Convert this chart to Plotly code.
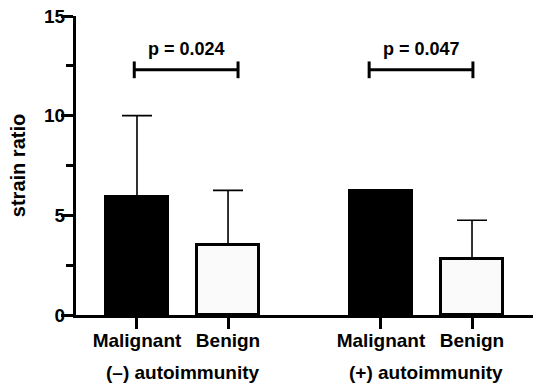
import plotly.graph_objects as go

# ---- data ----
groups = ["(\u2013) autoimmunity", "(+) autoimmunity"]
categories = ["Malignant", "Benign"]
means = [[5.9, 3.5], [6.2, 2.8]]
sd_upper = [[4.1, 2.75], [0.0, 1.95]]
p_values = ["p = 0.024", "p = 0.047"]
bracket_level = [12.3, 12.3]
y_ticks = [0, 5, 10, 15]

# ---- layout helpers ----
group_gap = 2.68
bracket_pad = [(-0.03, 0.11), (-0.13, 0.01)]
bar_fill = ["#000000", "#fafafa"]
FONT = "Liberation Sans, Arial, sans-serif"
BIG = 19

xs, ys, errs, fills, labels = [], [], [], [], []
for gi, g in enumerate(groups):
    for ci, c in enumerate(categories):
        xs.append(gi * group_gap + ci)
        ys.append(means[gi][ci])
        errs.append(sd_upper[gi][ci])
        fills.append(bar_fill[ci])
        labels.append(c)

fig = go.Figure()
fig.add_trace(go.Bar(
    x=xs, y=ys, width=0.675,
    marker=dict(color=fills, line=dict(color="black", width=3)),
    error_y=dict(type="data", array=errs, arrayminus=[0] * len(errs),
                 symmetric=False, color="black", thickness=1.6, width=15),
    showlegend=False, hoverinfo="skip",
))

shapes = []
annotations = []
for gi, g in enumerate(groups):
    x0 = gi * group_gap + bracket_pad[gi][0]
    x1 = gi * group_gap + 1 + bracket_pad[gi][1]
    yb = bracket_level[gi]
    shapes.append(dict(type="line", xref="x", yref="y", x0=x0, x1=x1, y0=yb, y1=yb,
                       line=dict(color="black", width=3)))
    for xe in (x0, x1):
        shapes.append(dict(type="line", xref="x", yref="y", x0=xe, x1=xe,
                           y0=yb - 0.42, y1=yb + 0.42, line=dict(color="black", width=3)))
    annotations.append(dict(x=(x0 + x1) / 2, y=yb, xref="x", yref="y", text=p_values[gi],
                            showarrow=False, yshift=21,
                            font=dict(family=FONT, size=18, color="black", weight="bold")))
    annotations.append(dict(x=gi * group_gap + 0.5, y=0, xref="x", yref="paper", text=g,
                            showarrow=False, yanchor="middle", yshift=-57,
                            font=dict(family=FONT, size=BIG, color="black", weight="bold")))

fig.update_layout(
    width=550, height=390,
    margin=dict(l=76, r=17, t=16, b=75, autoexpand=False),
    plot_bgcolor="white", paper_bgcolor="white",
    shapes=shapes, annotations=annotations,
    font=dict(family=FONT, size=BIG, color="black", weight="bold"),
    bargap=0,
)
fig.update_xaxes(
    range=[-0.67, 4.35], tickvals=xs, ticktext=labels, automargin=False,
    showline=True, linecolor="black", linewidth=3,
    ticks="outside", ticklen=11, tickwidth=3, tickcolor="black",
    ticklabelstandoff=-5,
    showgrid=False, zeroline=False,
    tickfont=dict(family=FONT, size=BIG, color="black", weight="bold"),
)
fig.update_yaxes(
    range=[0, 15], tickvals=y_ticks, automargin=False,
    showline=True, linecolor="black", linewidth=3,
    ticks="outside", ticklen=12, tickwidth=3, tickcolor="black",
    ticklabelstandoff=-8,
    minor=dict(dtick=2.5, ticks="outside", ticklen=7, tickwidth=3, tickcolor="black"),
    showgrid=False, zeroline=False,
    tickfont=dict(family=FONT, size=BIG, color="black", weight="bold"),
    title=dict(text="strain ratio", standoff=14,
               font=dict(family=FONT, size=20, color="black", weight="bold")),
)

fig.write_html("out.html", config={"displayModeBar": False},
               post_script="document.body.style.margin='0px';")
